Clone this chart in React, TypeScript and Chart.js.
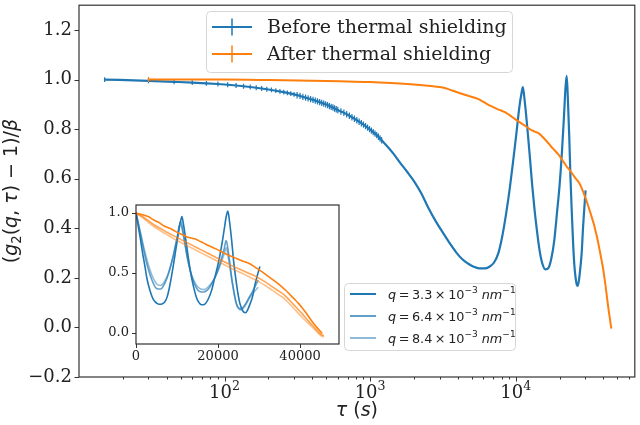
import React, { useEffect, useRef } from "react";
import { Chart, registerables } from "chart.js";
Chart.register(...registerables);

const BLUE = "#1f77b4";
const ORANGE = "#ff7f0e";
const BLUE_M = "rgba(31,119,180,0.7)";
const BLUE_L = "rgba(31,119,180,0.5)";
const ORANGE_M = "rgba(255,127,14,0.7)";
const ORANGE_L = "rgba(255,127,14,0.5)";

// Before thermal shielding, q = 3.3e-3 nm^-1 (tau in s)
const beforeTau = [
  15, 30, 45, 60, 75, 90, 105, 120, 135, 150, 165, 180, 195, 210, 225, 240, 255, 270, 285, 300,
  315, 330, 345, 360, 375, 390, 405, 420, 435, 450, 465, 480, 495, 510, 525, 540, 555, 570, 585, 600,
  630, 660, 690, 720, 750, 780, 810, 840, 870, 900, 930, 960, 990, 1020, 1050, 1080, 1110, 1140, 1170, 1200,
  1300, 1450, 1600, 1800, 2000, 2250, 2500, 2800, 3100, 3500, 3900, 4300, 4700, 5100, 5600,
  6100, 6600, 7100, 7600, 8100, 8600, 9100, 9600, 10100, 10600, 11000, 11200, 11500, 12000, 12500,
  13000, 13500, 14000, 14600, 15200, 16000, 16800, 17600, 18400, 19200, 20000, 20800, 21500, 22000, 22400,
  22800, 23300, 23800, 24300, 24800, 25300, 25800, 26300, 26700, 27200, 27800, 28400, 29000, 29600, 30200,
];
const beforeVal = [
  1.0, 0.995, 0.991, 0.988, 0.985, 0.982, 0.979, 0.976, 0.973, 0.97, 0.967, 0.964, 0.961, 0.958, 0.955, 0.952, 0.949, 0.946, 0.943, 0.94,
  0.937, 0.934, 0.93, 0.927, 0.924, 0.921, 0.918, 0.915, 0.912, 0.909, 0.906, 0.903, 0.9, 0.897, 0.893, 0.89, 0.887, 0.883, 0.88, 0.877,
  0.871, 0.866, 0.86, 0.854, 0.848, 0.842, 0.836, 0.83, 0.824, 0.818, 0.812, 0.806, 0.8, 0.794, 0.788, 0.782, 0.776, 0.769, 0.762, 0.755,
  0.733, 0.7, 0.666, 0.627, 0.59, 0.54, 0.485, 0.432, 0.39, 0.342, 0.303, 0.275, 0.258, 0.246, 0.238,
  0.238, 0.245, 0.262, 0.3, 0.37, 0.46, 0.56, 0.67, 0.78, 0.89, 0.95, 0.97, 0.92, 0.81, 0.69,
  0.57, 0.47, 0.39, 0.31, 0.26, 0.234, 0.24, 0.28, 0.35, 0.46, 0.57, 0.71, 0.86, 0.97, 1.015,
  0.93, 0.78, 0.6, 0.46, 0.34, 0.25, 0.2, 0.172, 0.168, 0.19, 0.24, 0.3, 0.4, 0.48, 0.553,
];

// After thermal shielding, q = 3.3e-3 nm^-1
const afterTau = [
  30, 60, 100, 200, 400, 700, 1000, 1400, 1800, 2200, 2600, 3000, 3300, 3700, 4200, 4800, 5500,
  6000, 6600, 7300, 8000, 8600, 9500, 10500, 11500, 12500, 13500, 14500, 15500, 16500, 17500, 18500,
  19500, 20500, 21500, 22500, 23500, 24500, 25500, 26500, 27500, 28500, 29500, 30500, 31500, 32500,
  33500, 34500, 35500, 36500, 37500, 38500, 39500, 40500, 41500, 42500, 43500, 44500, 45400,
];
const afterVal = [
  1.0, 1.0, 1.0, 0.998, 0.995, 0.992, 0.99, 0.986, 0.982, 0.978, 0.974, 0.97, 0.965, 0.955, 0.944, 0.933, 0.922,
  0.91, 0.896, 0.884, 0.874, 0.866, 0.848, 0.83, 0.815, 0.8, 0.79, 0.782, 0.765, 0.748, 0.73, 0.715,
  0.7, 0.683, 0.665, 0.648, 0.635, 0.62, 0.605, 0.593, 0.58, 0.56, 0.537, 0.515, 0.49, 0.465,
  0.44, 0.415, 0.385, 0.355, 0.32, 0.285, 0.25, 0.21, 0.165, 0.115, 0.07, 0.03, -0.005,
];

// Inset: before shielding, q = 6.4e-3 and 8.4e-3 nm^-1
const insetBeforeTau = [
  15, 1000, 2000, 3000, 4000, 5000, 6000, 7000, 8000, 9000, 10000, 10900, 11500, 12500, 13500, 14500,
  15500, 16500, 17500, 18500, 19500, 20500, 21500, 22000, 22500, 23500, 24500, 25500, 26500, 27500, 28500, 29800,
];
const q64BeforeVal = [
  1.0, 0.84, 0.67, 0.53, 0.43, 0.37, 0.365, 0.41, 0.5, 0.63, 0.79, 0.93, 0.84, 0.63, 0.48, 0.39,
  0.345, 0.34, 0.36, 0.41, 0.48, 0.58, 0.7, 0.77, 0.68, 0.42, 0.24, 0.2, 0.23, 0.29, 0.35, 0.44,
];
const q84BeforeVal = [
  1.0, 0.85, 0.7, 0.57, 0.47, 0.41, 0.395, 0.43, 0.51, 0.63, 0.78, 0.9, 0.82, 0.63, 0.49, 0.41,
  0.37, 0.36, 0.38, 0.42, 0.48, 0.56, 0.66, 0.71, 0.63, 0.41, 0.24, 0.19, 0.22, 0.28, 0.33, 0.38,
];
// Inset: after shielding, q = 6.4e-3 and 8.4e-3 nm^-1
const insetAfterTau = [
  0, 2000, 4000, 6000, 8000, 10000, 12000, 14000, 16000, 18000, 20000, 22000, 24000, 26000, 28000,
  30000, 31500, 33000, 34500, 36000, 37500, 39000, 40500, 42000, 43500, 45000, 45800,
];
const q64AfterVal = [
  1.0, 0.96, 0.91, 0.87, 0.83, 0.795, 0.76, 0.725, 0.69, 0.655, 0.62, 0.585, 0.55, 0.52, 0.49,
  0.455, 0.425, 0.39, 0.355, 0.32, 0.27, 0.215, 0.16, 0.1, 0.045, -0.01, -0.025,
];
const q84AfterVal = [
  1.0, 0.95, 0.895, 0.85, 0.81, 0.77, 0.735, 0.7, 0.665, 0.63, 0.595, 0.56, 0.525, 0.495, 0.46,
  0.425, 0.395, 0.36, 0.325, 0.29, 0.24, 0.185, 0.13, 0.08, 0.03, -0.02, -0.035,
];

const mainXTicks = [100, 1000, 10000];
const mainXTickExp = ["2", "3", "4"];
const mainXMinor = [
  20, 30, 40, 50, 60, 70, 80, 90, 200, 300, 400, 500, 600, 700, 800, 900,
  2000, 3000, 4000, 5000, 6000, 7000, 8000, 9000, 20000, 30000, 40000, 50000, 60000,
];
const mainYTicks = [-0.2, 0.0, 0.2, 0.4, 0.6, 0.8, 1.0, 1.2];
const insetXTicks = [0, 20000, 40000];
const insetYTicks = [0.0, 0.5, 1.0];
const mainLegend = ["Before thermal shielding", "After thermal shielding"];
const qLabels = ["3.3", "6.4", "8.4"];

const pts = (xs: number[], ys: number[]) => xs.map((x, i) => ({ x, y: ys[i] }));
const fmt1 = (v: number) => (v < 0 ? "\u2212" : "") + Math.abs(v).toFixed(1);

type Seg = { t: string; it?: boolean; sc?: number; dy?: number };
const segFont = (s: Seg, size: number, fam: string) =>
  `${s.it ? "italic " : ""}${(size * (s.sc ?? 1)).toFixed(1)}px ${fam}`;
function richWidth(ctx: CanvasRenderingContext2D, segs: Seg[], size: number, fam: string) {
  let w = 0;
  for (const s of segs) {
    ctx.font = segFont(s, size, fam);
    w += ctx.measureText(s.t).width;
  }
  return w;
}
function drawRich(
  ctx: CanvasRenderingContext2D, segs: Seg[], x: number, y: number, size: number, fam: string, align: "left" | "center"
) {
  let cx = align === "center" ? x - richWidth(ctx, segs, size, fam) / 2 : x;
  ctx.textAlign = "left";
  ctx.textBaseline = "alphabetic";
  for (const s of segs) {
    ctx.font = segFont(s, size, fam);
    ctx.fillText(s.t, cx, y + (s.dy ?? 0) * size);
    cx += ctx.measureText(s.t).width;
  }
}
function roundRect(ctx: CanvasRenderingContext2D, x: number, y: number, w: number, h: number, r: number) {
  ctx.beginPath();
  ctx.moveTo(x + r, y);
  ctx.lineTo(x + w - r, y);
  ctx.arcTo(x + w, y, x + w, y + r, r);
  ctx.lineTo(x + w, y + h - r);
  ctx.arcTo(x + w, y + h, x + w - r, y + h, r);
  ctx.lineTo(x + r, y + h);
  ctx.arcTo(x, y + h, x, y + h - r, r);
  ctx.lineTo(x, y + r);
  ctx.arcTo(x, y, x + r, y, r);
  ctx.closePath();
}

const SPINE = "#333";
const TEXT = "#222";

const mainDecor = {
  id: "mainDecor",
  afterDraw(chart: any) {
    const { ctx, chartArea: a, scales } = chart;
    const xs = scales.x, ys = scales.y;
    ctx.save();
    ctx.strokeStyle = SPINE;
    ctx.lineWidth = 1.2;
    ctx.strokeRect(a.left, a.top, a.right - a.left, a.bottom - a.top);
    ctx.lineWidth = 1;
    ctx.beginPath();
    for (const v of mainXTicks) {
      const px = Math.round(xs.getPixelForValue(v)) + 0.5;
      ctx.moveTo(px, a.bottom); ctx.lineTo(px, a.bottom + 4.5);
    }
    for (const v of mainXMinor) {
      const px = Math.round(xs.getPixelForValue(v)) + 0.5;
      ctx.moveTo(px, a.bottom); ctx.lineTo(px, a.bottom + 2.5);
    }
    for (const v of mainYTicks) {
      const py = Math.round(ys.getPixelForValue(v)) + 0.5;
      ctx.moveTo(a.left - 4.5, py); ctx.lineTo(a.left, py);
    }
    ctx.stroke();

    // x tick labels 10^n
    ctx.fillStyle = TEXT;
    mainXTicks.forEach((v, i) => {
      const px = xs.getPixelForValue(v);
      drawRich(ctx, [{ t: "10" }, { t: mainXTickExp[i], sc: 0.7, dy: -0.45 }], px, 398, 18, "'DejaVu Serif'", "center");
    });

    // legend 1
    roundRect(ctx, 206.5, 11.5, 306, 61, 4);
    ctx.fillStyle = "rgba(255,255,255,0.85)";
    ctx.fill();
    ctx.strokeStyle = "#d6d6d6";
    ctx.stroke();
    const rows = [27, 54];
    const cols = [BLUE, ORANGE];
    rows.forEach((ry, i) => {
      ctx.strokeStyle = cols[i];
      ctx.lineWidth = 2;
      ctx.beginPath(); ctx.moveTo(212, ry); ctx.lineTo(252, ry); ctx.stroke();
      ctx.lineWidth = 1.5;
      ctx.beginPath(); ctx.moveTo(232, ry - 8.5); ctx.lineTo(232, ry + 8.5); ctx.stroke();
      ctx.fillStyle = TEXT;
      ctx.font = "19px 'DejaVu Serif'";
      ctx.textAlign = "left";
      ctx.textBaseline = "middle";
      ctx.fillText(mainLegend[i], 267, ry + 1);
    });

    // legend 2
    roundRect(ctx, 344.5, 283.5, 171, 67, 4);
    ctx.fillStyle = "rgba(255,255,255,0.85)";
    ctx.fill();
    ctx.strokeStyle = "#d6d6d6";
    ctx.lineWidth = 1;
    ctx.stroke();
    const r2 = [294, 316, 338];
    const c2 = [BLUE, BLUE_M, BLUE_L];
    r2.forEach((ry, i) => {
      ctx.strokeStyle = c2[i];
      ctx.lineWidth = 2;
      ctx.beginPath(); ctx.moveTo(350, ry); ctx.lineTo(376, ry); ctx.stroke();
      ctx.fillStyle = TEXT;
      drawRich(ctx, [
        { t: "q", it: true },
        { t: "\u2009=\u2009" + qLabels[i] + "\u2009×\u200910" },
        { t: "\u22123", sc: 0.7, dy: -0.42 },
        { t: " " },
        { t: "nm", it: true },
        { t: "\u22121", sc: 0.7, dy: -0.42 },
      ], 388, ry + 4.5, 12.8, "'DejaVu Sans'", "left");
    });

    // axis titles
    ctx.fillStyle = TEXT;
    drawRich(ctx, [{ t: "\u03c4", it: true }, { t: " (" }, { t: "s", it: true }, { t: ")" }],
      (a.left + a.right) / 2, 416, 19, "'DejaVu Sans'", "center");
    ctx.save();
    ctx.translate(17, (a.top + a.bottom) / 2);
    ctx.rotate(-Math.PI / 2);
    drawRich(ctx, [
      { t: "(" }, { t: "g", it: true }, { t: "2", sc: 0.7, dy: 0.22 }, { t: "(" }, { t: "q", it: true },
      { t: ", " }, { t: "\u03c4", it: true }, { t: ") \u2212 1)/" }, { t: "\u03b2", it: true },
    ], 0, 0, 19, "'DejaVu Sans'", "center");
    ctx.restore();
    ctx.restore();
  },
};

const insetDecor = {
  id: "insetDecor",
  beforeDraw(chart: any) {
    const { ctx, chartArea: a } = chart;
    ctx.save();
    ctx.fillStyle = "#fff";
    ctx.fillRect(a.left, a.top, a.right - a.left, a.bottom - a.top);
    ctx.restore();
  },
  afterDraw(chart: any) {
    const { ctx, chartArea: a, scales } = chart;
    ctx.save();
    ctx.strokeStyle = SPINE;
    ctx.lineWidth = 1.2;
    ctx.strokeRect(a.left, a.top, a.right - a.left, a.bottom - a.top);
    ctx.lineWidth = 1;
    ctx.beginPath();
    for (const v of insetXTicks) {
      const px = Math.round(scales.x.getPixelForValue(v)) + 0.5;
      ctx.moveTo(px, a.bottom); ctx.lineTo(px, a.bottom + 4);
    }
    for (const v of insetYTicks) {
      const py = Math.round(scales.y.getPixelForValue(v)) + 0.5;
      ctx.moveTo(a.left - 4, py); ctx.lineTo(a.left, py);
    }
    ctx.stroke();
    ctx.restore();
  },
};

const zeroPad = (s: any) => { s.paddingLeft = 0; s.paddingRight = 0; s.paddingTop = 0; s.paddingBottom = 0; };

export default function App() {
  const mainRef = useRef<HTMLCanvasElement>(null);
  const insetRef = useRef<HTMLCanvasElement>(null);

  useEffect(() => {
    const main = new Chart(mainRef.current as HTMLCanvasElement, {
      type: "line",
      data: {
        datasets: [
          {
            label: mainLegend[1],
            data: pts(afterTau, afterVal),
            borderColor: ORANGE,
            borderWidth: 2,
            cubicInterpolationMode: "monotone",
            pointStyle: "line",
            pointRotation: 90,
            pointRadius: (c: any) => (c.dataIndex === 0 ? 2.5 : 0),
            pointBorderColor: ORANGE,
            pointBorderWidth: 1.2,
            order: 0,
          },
          {
            label: mainLegend[0],
            data: pts(beforeTau, beforeVal),
            borderColor: BLUE,
            borderWidth: 2.2,
            cubicInterpolationMode: "monotone",
            pointStyle: "line",
            pointRotation: 90,
            pointRadius: (c: any) => {
              const x = c.raw ? c.raw.x : 99999;
              return x <= 300 ? 2.4 : x <= 1200 ? 3.2 : 0;
            },
            pointBorderColor: BLUE,
            pointBorderWidth: 1.2,
            order: 1,
          },
        ],
      } as any,
      options: {
        animation: false,
        responsive: false,
        maintainAspectRatio: false,
        events: [],
        layout: { padding: { left: 0, top: 1, right: 5, bottom: 0 } },
        plugins: { legend: { display: false }, tooltip: { enabled: false } },
        scales: {
          x: {
            type: "logarithmic",
            min: 10,
            max: 65800,
            grid: { display: false, drawTicks: false },
            border: { display: false },
            afterBuildTicks: (s: any) => { s.ticks = mainXTicks.map((v) => ({ value: v })); },
            afterFit: (s: any) => { s.height = 48; zeroPad(s); },
            ticks: {
              autoSkip: false, maxRotation: 0, minRotation: 0, padding: 6,
              color: TEXT, font: { family: "'DejaVu Serif'", size: 18 },
              callback: () => "",
            },
          },
          y: {
            type: "linear",
            min: -0.2,
            max: 1.3,
            grid: { display: false, drawTicks: false },
            border: { display: false },
            afterBuildTicks: (s: any) => { s.ticks = mainYTicks.map((v) => ({ value: v })); },
            afterFit: (s: any) => { s.width = 79; zeroPad(s); },
            ticks: {
              autoSkip: false, padding: 7, color: TEXT,
              font: { family: "'DejaVu Serif'", size: 18 },
              callback: (v: any) => fmt1(Number(v)),
            },
          },
        },
      } as any,
      plugins: [mainDecor],
    });

    const inset = new Chart(insetRef.current as HTMLCanvasElement, {
      type: "line",
      data: {
        datasets: [
          { data: pts(afterTau, afterVal), borderColor: ORANGE, order: 0 },
          { data: pts(insetAfterTau, q64AfterVal), borderColor: ORANGE_M, order: 1 },
          { data: pts(insetAfterTau, q84AfterVal), borderColor: ORANGE_L, order: 2 },
          { data: pts(beforeTau, beforeVal), borderColor: BLUE, order: 3 },
          { data: pts(insetBeforeTau, q64BeforeVal), borderColor: BLUE_M, order: 4 },
          { data: pts(insetBeforeTau, q84BeforeVal), borderColor: BLUE_L, order: 5 },
        ].map((d) => ({ ...d, borderWidth: 1.6, pointRadius: 0, cubicInterpolationMode: "monotone" })),
      } as any,
      options: {
        animation: false,
        responsive: false,
        maintainAspectRatio: false,
        events: [],
        layout: { padding: { left: 0, top: 5, right: 7, bottom: 0 } },
        plugins: { legend: { display: false }, tooltip: { enabled: false } },
        scales: {
          x: {
            type: "linear",
            min: 0,
            max: 49500,
            grid: { display: false, drawTicks: false },
            border: { display: false },
            afterBuildTicks: (s: any) => { s.ticks = insetXTicks.map((v) => ({ value: v })); },
            afterFit: (s: any) => { s.height = 26; zeroPad(s); },
            ticks: {
              autoSkip: false, maxRotation: 0, minRotation: 0, padding: 5, color: TEXT,
              font: { family: "'DejaVu Serif'", size: 13 },
              callback: (v: any) => String(Math.round(Number(v))),
            },
          },
          y: {
            type: "linear",
            min: -0.093,
            max: 1.066,
            grid: { display: false, drawTicks: false },
            border: { display: false },
            afterBuildTicks: (s: any) => { s.ticks = insetYTicks.map((v) => ({ value: v })); },
            afterFit: (s: any) => { s.width = 40; zeroPad(s); },
            ticks: {
              autoSkip: false, padding: 7, color: TEXT,
              font: { family: "'DejaVu Serif'", size: 13 },
              callback: (v: any) => Number(v).toFixed(1),
            },
          },
        },
      } as any,
      plugins: [insetDecor],
    });

    return () => { main.destroy(); inset.destroy(); };
  }, []);

  return (
    <div style={{ position: "absolute", left: 0, top: 0, width: 640, height: 425, background: "#fff" }}>
      <canvas ref={mainRef} width={640} height={425}
        style={{ position: "absolute", left: 0, top: 0, width: 640, height: 425 }} />
      <canvas ref={insetRef} width={250} height={170}
        style={{ position: "absolute", left: 96, top: 200, width: 250, height: 170 }} />
    </div>
  );
}
